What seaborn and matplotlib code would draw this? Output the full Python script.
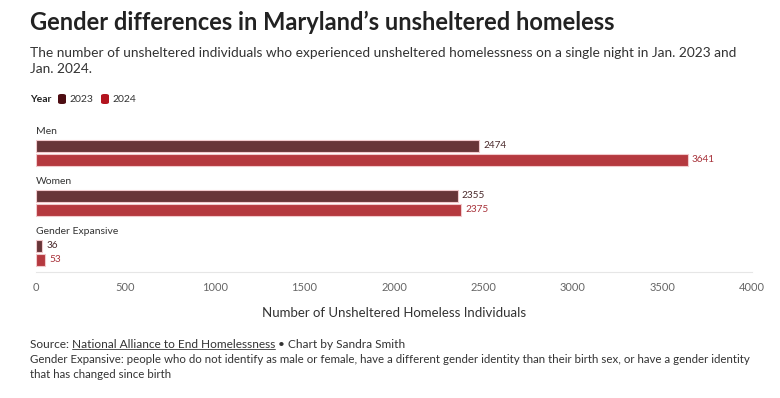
import pandas as pd
import matplotlib.pyplot as plt
import seaborn as sns
from matplotlib.patches import FancyBboxPatch
from matplotlib.lines import Line2D

# data
genders = ["Men", "Women", "Gender Expansive"]
count_2023 = [2474, 2355, 36]
count_2024 = [3641, 2375, 53]
years = ["2023", "2024"]
x_ticks = [0, 500, 1000, 1500, 2000, 2500, 3000, 3500, 4000]

df = pd.DataFrame({
    "gender": genders * 2,
    "year": [years[0]] * 3 + [years[1]] * 3,
    "count": count_2023 + count_2024,
})

sns.set_theme(style="white")
plt.rcParams["font.family"] = ["Lato", "DejaVu Sans"]

bar_cols = {"2023": "#683538", "2024": "#b5393f"}
swatch_cols = ["#4d0d12", "#b3141f"]
lbl_cols = ["#4a2a2c", "#a8323a"]

fig = plt.figure(figsize=(7.8, 3.98), dpi=100)
ax = fig.add_axes([36 / 780, 1 - 272 / 398, 716 / 780, 147 / 398])

sns.barplot(data=df, y="gender", x="count", hue="year", palette=bar_cols,
            orient="h", width=0.56, gap=0.14, saturation=1, edgecolor="#f2c9cc",
            linewidth=0.8, legend=False, ax=ax)

for cont, col in zip(ax.containers, lbl_cols):
    ax.bar_label(cont, padding=3, fontsize=7.2, color=col)

for i, g in enumerate(genders):
    ax.text(0, i - 0.34, g, fontsize=7.5, color="#333333", va="bottom", ha="left")

ax.set_xlim(0, 4000)
ax.set_ylim(2.38, -0.56)
ax.set_xticks(x_ticks)
ax.set_xticklabels([str(t) for t in x_ticks], fontsize=8, color="#666666")
ax.tick_params(axis="x", length=0, pad=7)
ax.set_yticks([])
ax.set_ylabel("")
ax.set_xlabel("Number of Unsheltered Homeless Individuals", fontsize=9.5,
              color="#333333", labelpad=10)
for s in ["top", "right", "left"]:
    ax.spines[s].set_visible(False)
ax.spines["bottom"].set_color("#e6e6e6")
ax.spines["bottom"].set_linewidth(0.8)

# title block
fig.text(30 / 780, 1 - 22 / 398, "Gender differences in Maryland\u2019s unsheltered homeless",
         fontsize=17, fontweight="bold", color="#222222", va="center")
fig.text(30 / 780, 1 - 61 / 398,
         "The number of unsheltered individuals who experienced unsheltered homelessness on a single night in Jan. 2023 and\nJan. 2024.",
         fontsize=9.9, color="#333333", va="center", linespacing=1.35)

# legend
ly = 1 - 99 / 398
fig.text(30 / 780, ly, "Year", fontsize=7.5, fontweight="bold", color="#222222", va="center")
for x0, col, lab in [(58, swatch_cols[0], years[0]), (101, swatch_cols[1], years[1])]:
    fig.patches.append(FancyBboxPatch((x0 / 780, 1 - 104 / 398), 8 / 780, 10 / 398,
                                      boxstyle="round,pad=0,rounding_size=0.004",
                                      transform=fig.transFigure, facecolor=col,
                                      edgecolor="none"))
    fig.text((x0 + 11) / 780, ly, lab, fontsize=7.5, color="#333333", va="center")

# footer
fy = 1 - 344 / 398
t1 = fig.text(30 / 780, fy, "Source: ", fontsize=8.6, color="#333333", va="center")
fig.canvas.draw()
r = fig.canvas.get_renderer()
bb = t1.get_window_extent(r)
x_link = bb.x1 / fig.bbox.width
t2 = fig.text(x_link, fy, "National Alliance to End Homelessness", fontsize=8.6,
              color="#333333", va="center")
bb2 = t2.get_window_extent(r)
uy = (bb2.y0 + 1) / fig.bbox.height
fig.lines.append(Line2D([bb2.x0 / fig.bbox.width, bb2.x1 / fig.bbox.width], [uy, uy],
                        transform=fig.transFigure, color="#333333", linewidth=0.6))
fig.text(bb2.x1 / fig.bbox.width, fy, " \u2022 Chart by Sandra Smith", fontsize=8.6,
         color="#333333", va="center")
fig.text(30 / 780, 1 - 367 / 398,
         "Gender Expansive: people who do not identify as male or female, have a different gender identity than their birth sex, or have a gender identity\nthat has changed since birth",
         fontsize=8.3, color="#333333", va="center", linespacing=1.5)

fig.savefig("out.png", dpi=100, facecolor="white")
